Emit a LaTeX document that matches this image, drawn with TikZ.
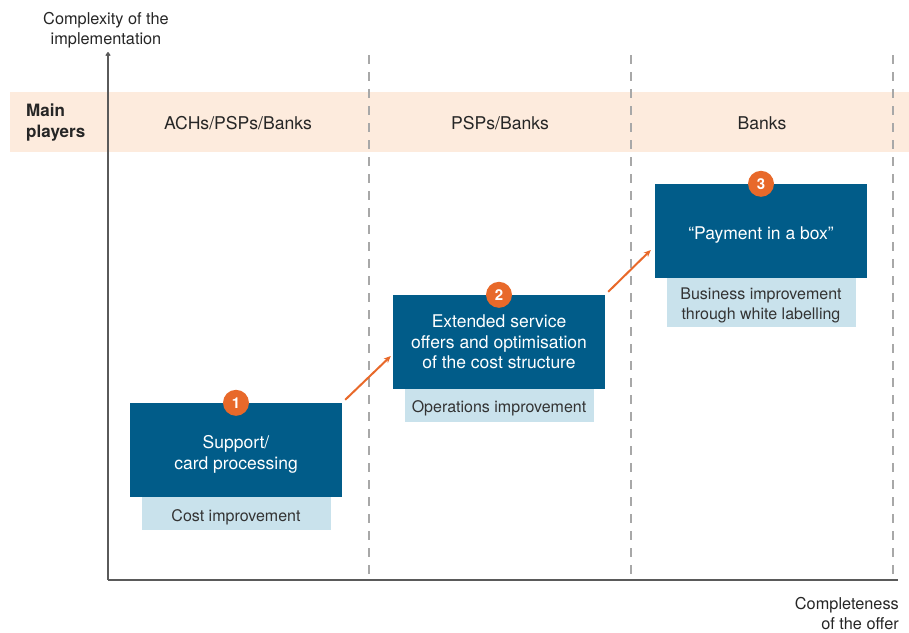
\documentclass[tikz,border=0pt]{standalone}
\usepackage{fontspec}
\setmainfont{TeX Gyre Heros}
\usetikzlibrary{arrows.meta}
\definecolor{offerblue}{HTML}{015C89}
\definecolor{gainblue}{HTML}{C9E2EC}
\definecolor{bandpeach}{HTML}{FDEBDD}
\definecolor{steporange}{HTML}{E8692A}
\definecolor{axisgray}{HTML}{5A5A5A}
\definecolor{dashgray}{HTML}{A8A8A8}
% lower a block of lines without changing its size
\newcommand{\lowtext}[2]{\raisebox{-#1}[\height][\depth]{\begin{tabular}{@{}c@{}}#2\end{tabular}}}
\begin{document}
\begin{tikzpicture}[x=1pt,y=-1pt,
  mainbox/.style={fill=offerblue,text=white,minimum width=212pt,minimum height=94pt,
    align=center,inner sep=0pt,font=\fontsize{17.5}{20.5}\selectfont},
  gainbox/.style={fill=gainblue,text=black!80,minimum width=189pt,minimum height=33pt,
    align=center,inner sep=0pt,anchor=north,font=\fontsize{16}{20}\selectfont},
  numdot/.style={circle,fill=steporange,text=white,minimum size=26pt,inner sep=0pt,
    font=\fontsize{15}{15}\selectfont\bfseries},
  plain/.style={text=black!85,align=center,font=\fontsize{16.3}{20}\selectfont},
  head/.style={plain,font=\fontsize{17.6}{21}\selectfont},
  stepline/.style={steporange,line width=2pt,-{Stealth[length=7pt,width=6pt]}}]
\useasboundingbox (0,0) rectangle (909,632);

% players band
\fill[bandpeach] (10,92) rectangle (909,152);
\node[plain,anchor=west,align=left,inner sep=0pt,font=\fontsize{17}{21}\selectfont\bfseries] (who) at (26,123) {Main\\players};
\node[head] (col1) at (238,123) {ACHs/PSPs/Banks};
\node[head] (col2) at (500,123) {PSPs/Banks};
\node[head] (col3) at (762,123) {Banks};

% columns
\foreach \x in {369,631,893}
  \draw[dashgray,line width=1.3pt,dash pattern=on 9pt off 8pt] (\x,55) -- (\x,578);

% axes
\coordinate (o) at (108,580);
\coordinate (ytop) at (108,52);
\coordinate (xend) at (898,580);
\draw[axisgray,line width=1.2pt,-{To[length=4pt,width=5pt]}] (o) -- (ytop);
\draw[axisgray,line width=1.2pt] (o) -- (xend);
\node[plain] (ylab) at (106,30) {Complexity of the\\implementation};
\node[plain,align=right,anchor=east,inner sep=0pt] (xlab) at (899,614) {Completeness\\of the offer};

% steps
\node[mainbox] (box1) at (236,450) {\lowtext{5pt}{Support/\\card processing}};
\node[gainbox] (gain1) at (box1.south) {\lowtext{3.5pt}{Cost improvement}};
\node[numdot] (n1) at (box1.north) {1};

\node[mainbox] (box2) at (499,342) {Extended service\\offers and optimisation\\of the cost structure};
\node[gainbox] (gain2) at (box2.south) {\lowtext{3pt}{Operations improvement}};
\node[numdot] (n2) at (box2.north) {2};

\node[mainbox] (box3) at (761,231) {\lowtext{4pt}{\textquotedblleft Payment in a box\textquotedblright}};
\node[gainbox,minimum height=49pt] (gain3) at (box3.south) {\lowtext{3pt}{Business improvement\\through white labelling}};
\node[numdot] (n3) at (box3.north) {3};

\draw[stepline] ([shift={(3,-3)}]box1.north east) -- ([shift={(-2,14)}]box2.west);
\draw[stepline] ([shift={(3,-3)}]box2.north east) -- ([shift={(-4,19)}]box3.west);
\end{tikzpicture}
\end{document}
